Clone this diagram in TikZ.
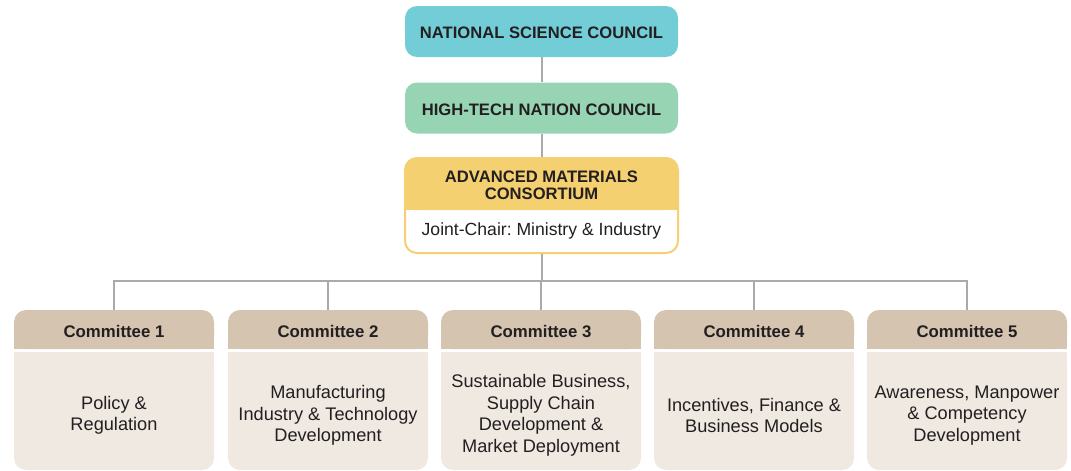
\documentclass[tikz,border=0pt]{standalone}
\usepackage{fontspec}
\setmainfont{Liberation Sans}
\usetikzlibrary{positioning}
\definecolor{ink}{RGB}{35,31,32}
\definecolor{nscblue}{RGB}{114,205,214}
\definecolor{htncgreen}{RGB}{150,212,180}
\definecolor{amcyellow}{RGB}{244,208,112}
\definecolor{headtan}{RGB}{212,196,176}
\definecolor{bodysand}{RGB}{239,233,226}
\definecolor{linkgray}{RGB}{170,170,170}
\frenchspacing

\begin{document}
\begin{tikzpicture}[x=0.5pt,y=-0.5pt,
  council/.style={rounded corners=6pt, minimum width=136.5pt, minimum height=25.5pt,
    inner sep=0pt, text=ink, font=\fontsize{8.3}{9}\selectfont\bfseries, align=center},
  oneline/.style={text height=7.1pt, text depth=0pt},
  link/.style={draw=linkgray, line width=1pt},
  comhead/.style={minimum width=100pt, minimum height=19.5pt, inner sep=0pt,
    text height=8.4pt, text depth=0pt,
    text=ink, font=\fontsize{8.4}{9}\selectfont\bfseries},
  combody/.style={inner sep=0pt, text=ink, align=center,
    font=\fontsize{9.1}{10.75}\selectfont}]

\useasboundingbox (0,0) rectangle (1071,471);

%---------------------------------------
% Councils
%---------------------------------------
\node[council, oneline, fill=nscblue] (nsc) at (541.5,31.5) {NATIONAL SCIENCE COUNCIL};
\node[council, oneline, fill=htncgreen] (htnc) at (541.5,108) {HIGH-TECH NATION COUNCIL};

%---------------------------------------
% Consortium
%---------------------------------------
\node[council, draw=amcyellow, line width=1pt, fill=white, minimum height=47.5pt] (amc) at (541.5,205.5) {};
\fill[amcyellow, rounded corners=6pt] (405,158) rectangle (678,210);
\fill[amcyellow] (405,185) rectangle (678,210);
\node[council, minimum height=26pt] (amchead) at (541.5,185.5) {ADVANCED MATERIALS\\[-0.6pt]CONSORTIUM};
\node[combody, font=\fontsize{8.8}{10}\selectfont] (amcbody) at (541.5,230.5) {Joint-Chair: Ministry \& Industry};

%---------------------------------------
% Committees
%---------------------------------------
\foreach \i/\cx/\txt in {1/114/{Policy \&\\Regulation},
    2/328/{Manufacturing\\Industry \& Technology\\Development},
    3/541/{Sustainable Business,\\Supply Chain\\Development \&\\Market Deployment},
    4/754/{Incentives, Finance \&\\Business Models},
    5/967/{Awareness, Manpower\\\& Competency\\Development}} {
  \fill[headtan, rounded corners=6pt] (\cx-100,310) rectangle (\cx+100,349);
  \fill[headtan] (\cx-100,330) rectangle (\cx+100,349);
  \fill[bodysand, rounded corners=6pt] (\cx-100,352) rectangle (\cx+100,470);
  \fill[bodysand] (\cx-100,352) rectangle (\cx+100,380);
  \node[comhead] (c\i) at (\cx,329.5) {Committee \i};
  \node[combody] (b\i) at (\cx,415.5) {\txt};
}

% Links
\coordinate (bus) at (541.5,281);
\draw[link] (nsc.south) -- (htnc.north);
\draw[link] (htnc.south) -- (amc.north);
\draw[link] (amc.south) -- (bus);
\foreach \i in {1,...,5}
  \draw[link] (c\i.north) |- (bus);

\end{tikzpicture}
\end{document}
